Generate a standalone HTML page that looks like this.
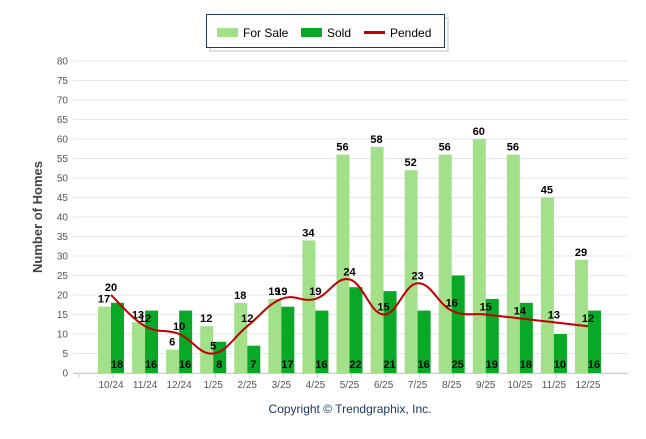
<!DOCTYPE html>
<html><head><meta charset="utf-8"><style>
body{margin:0;background:#fff;font-family:"Liberation Sans",sans-serif}
svg text{font-family:"Liberation Sans",sans-serif}
</style></head><body>
<svg id="c" width="646" height="434">
<g>
<rect x="208" y="16" width="238" height="33" fill="#fff" stroke="#999" stroke-width="1" transform="translate(2,2)" opacity="0.6"/>
<rect x="206.5" y="14.5" width="238" height="33" fill="#fff" stroke="#1f3864" stroke-width="1"/>
<rect x="217" y="28" width="21" height="9" fill="#a2e08a"/>
<text x="243" y="37" font-size="12">For Sale</text>
<rect x="301" y="28" width="21" height="9" fill="#0aa827"/>
<text x="327" y="37" font-size="12">Sold</text>
<rect x="364" y="31" width="21" height="3" fill="#c00000"/>
<text x="390" y="37" font-size="12">Pended</text>
</g>
<text transform="translate(42,217) rotate(-90)" text-anchor="middle" font-size="13" font-weight="bold" fill="#444">Number of Homes</text>
<text x="350" y="413" text-anchor="middle" font-size="12" fill="#1f3864">Copyright © Trendgraphix, Inc.</text>
<g id="plot"></g>
</svg>
<script>
const categories=["10/24","11/24","12/24","1/25","2/25","3/25","4/25","5/25","6/25","7/25","8/25","9/25","10/25","11/25","12/25"];
const forSale=[17,13,6,12,18,19,34,56,58,52,56,60,56,45,29];
const sold=[18,16,16,8,7,17,16,22,21,16,25,19,18,10,16];
const pended=[20,12,10,5,12,19,19,24,15,23,16,15,14,13,12];
const yTicks=[0,5,10,15,20,25,30,35,40,45,50,55,60,65,70,75,80];
const NS="http://www.w3.org/2000/svg";
const g=document.getElementById('plot');
const y=v=>373-v*3.9;
const xc=i=>111+i*34.07;
function mk(t,a){const e=document.createElementNS(NS,t);for(const k in a)e.setAttribute(k,a[k]);g.appendChild(e);return e;}
yTicks.forEach(t=>{
 const l=mk('line',{x1:73,x2:628,y1:y(t),y2:y(t),stroke:'#e6e6e6','stroke-width':1});
 
 
 const tx=mk('text',{x:68,y:y(t)+3.5,'text-anchor':'end','font-size':10,fill:'#555'});tx.textContent=t;
 
 
});
const ax=mk('line',{x1:73,x2:628,y1:373.5,y2:373.5,stroke:'#ccc'});


categories.forEach((c,i)=>{
 const tk=mk('line',{x1:xc(i)-34.07/2-15,x2:xc(i)-34.07/2-15,y1:373,y2:378,stroke:'#ccc'});
 
 
 const b1=mk('rect',{x:xc(i)-13,y:y(forSale[i]),width:13,height:forSale[i]*3.9,fill:'#a2e08a'});
 
 
 const b2=mk('rect',{x:xc(i),y:y(sold[i]),width:13,height:sold[i]*3.9,fill:'#0aa827'});
 
 
 const t1=mk('text',{x:xc(i)-7,y:y(forSale[i])-4,'text-anchor':'middle','font-size':11,'font-weight':'bold'});t1.textContent=forSale[i];
 
 
 const t2=mk('text',{x:xc(i)+6,y:368,'text-anchor':'middle','font-size':11,'font-weight':'bold'});t2.textContent=sold[i];
 
 
 const xl=mk('text',{x:xc(i),y:388,'text-anchor':'middle','font-size':10,fill:'#555'});xl.textContent=c;
 
 
});
const pts=pended.map((v,i)=>[xc(i),y(v)]);
let d='M'+pts[0][0]+','+pts[0][1];
for(let i=0;i<pts.length-1;i++){
 const p0=pts[Math.max(0,i-1)],p1=pts[i],p2=pts[i+1],p3=pts[Math.min(pts.length-1,i+2)];
 const k=0.2;
 d+=' C'+(p1[0]+(p2[0]-p0[0])*k)+','+(p1[1]+(p2[1]-p0[1])*k)+' '+(p2[0]-(p3[0]-p1[0])*k)+','+(p2[1]-(p3[1]-p1[1])*k)+' '+p2[0]+','+p2[1];
}
const ln=mk('path',{d:d,fill:'none',stroke:'#c00000','stroke-width':2});


pended.forEach((v,i)=>{
 const t=mk('text',{x:xc(i),y:y(v)-4,'text-anchor':'middle','font-size':11,'font-weight':'bold'});t.textContent=v;
 
 
});
</script>
</body></html>
